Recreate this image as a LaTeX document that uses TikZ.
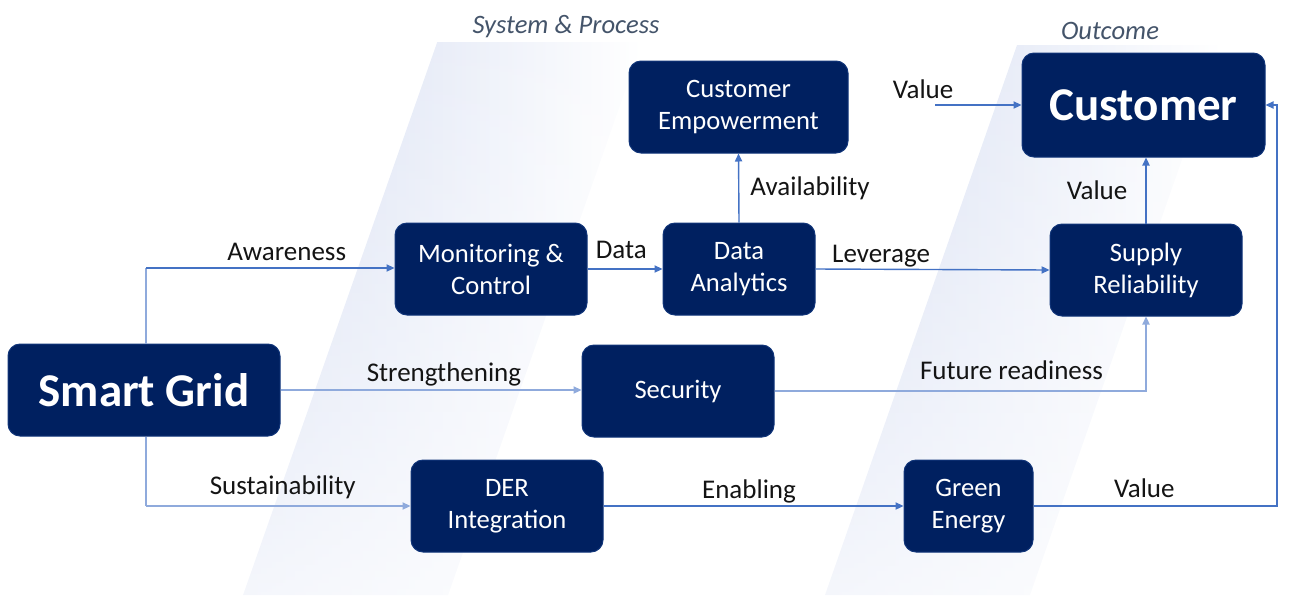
\documentclass[tikz,border=0pt]{standalone}
\usepackage{fontspec}
\setmainfont{Carlito}
\usetikzlibrary{arrows.meta,fadings}

\definecolor{boxColor}{RGB}{0,32,96}
\definecolor{lineColor}{RGB}{68,114,196}
\definecolor{bandColor}{RGB}{212,220,241}
\definecolor{titleColor}{RGB}{68,84,106}
\definecolor{labelColor}{RGB}{20,20,20}

\tikzfading[name=band fade, top color=transparent!0, bottom color=transparent!75]

\tikzset{
  block/.style={fill=boxColor, draw=boxColor!75!lineColor, line width=0.5pt,
    rounded corners=6pt, text=white, align=center, inner sep=0pt,
    font=\fontsize{13.3}{16}\selectfont},
  bigblock/.style={block, font=\fontsize{23.5}{28}\selectfont\bfseries},
  wire/.style={draw=lineColor, line width=0.7pt},
  link/.style={wire, -{Triangle[length=4pt,width=3.6pt]}},
  faint/.style={draw=lineColor!60},
  lbl/.style={text=labelColor, font=\fontsize{13.5}{16}\selectfont,
    inner sep=0pt, anchor=base},
  title/.style={text=titleColor, font=\fontsize{13.3}{16}\selectfont\itshape,
    inner sep=0pt},
  band/.style={left color=bandColor, middle color=bandColor!30, right color=white,
    path fading=band fade, fit fading=true}
}

\begin{document}
\begin{tikzpicture}[x=0.5pt,y=-0.5pt]
\useasboundingbox (0,0) rectangle (1293,595);

% slanted bands behind the two columns
\begin{scope}[shift={(243,595)}, xslant=0.351]
\shade[band] (0,0) rectangle (205,-553);
\end{scope}
\begin{scope}[shift={(825,595)}, xslant=0.349]
\shade[band] (0,0) rectangle (205,-550);
\end{scope}

\node[title] (systitle) at (566,27) {System \& Process};
\node[title] (outtitle) at (1110,31) {Outcome};

% boxes
\node[bigblock, minimum width=136pt, minimum height=46pt] (grid) at (144,390) {Smart Grid};
\node[block, minimum width=96pt, minimum height=46pt] (monitor) at (491,269) {Monitoring \&\\Control};
\node[block, minimum width=76pt, minimum height=46pt] (analytics) at (739,269) {Data\\Analytics};
\node[block, minimum width=109.5pt, minimum height=46pt] (empower) at (738.5,107) {Customer\\Empowerment};
\node[bigblock, minimum width=121.5pt, minimum height=52pt] (customer) at (1143.5,105) {Customer};
\node[block, minimum width=96pt, minimum height=46pt] (supply) at (1146,270) {Supply\\Reliability};
\node[block, minimum width=96pt, minimum height=46pt] (security) at (678,391) {Security};
\node[block, minimum width=96pt, minimum height=46pt] (der) at (507,506) {DER\\Integration};
\node[block, minimum width=64.5pt, minimum height=46pt] (green) at (968.5,506) {Green\\Energy};

% connectors
\coordinate (forktop) at (146,268);
\coordinate (forkbot) at (146,506);
\coordinate (valuefree) at (935,105);
\coordinate (loopcorner) at (1277,506);

\draw[wire, faint] (forktop) -- (forktop |- grid.north);
\draw[wire, faint] (forkbot |- grid.south) -- (forkbot);
\draw[link] (forktop) -- node[lbl, pos=0.566, yshift=4pt] (awareness) {Awareness} (forktop -| monitor.west);
\draw[link, faint] (grid.east) -- node[lbl, pos=0.543, yshift=4.5pt] (strength) {Strengthening} (grid.east -| security.west);
\draw[link, faint] (forkbot) -- node[lbl, pos=0.517, yshift=6pt] (sustain) {Sustainability} (der.west);
\draw[link] (monitor.east) -- node[lbl, pos=0.45, yshift=5.5pt] (data) {Data} (analytics.west);
\draw[link] (analytics.north) -- node[lbl, anchor=west, pos=0.5, xshift=5.5pt] (avail) {Availability} (empower.south);
\draw[link] (analytics.east) -- node[lbl, pos=0.28, yshift=3.5pt] (leverage) {Leverage} (supply.west);
\draw[link, faint] (security.east) -| node[lbl, pos=0.319, yshift=6pt] (future) {Future readiness} (supply.south);
\draw[link] (supply.north) -- node[lbl, anchor=east, pos=0.5, xshift=-9pt] (valuemid) {Value} (supply.north |- customer.south);
\draw[link] (valuefree) -- node[lbl, pos=0, anchor=base east, xshift=9.5pt, yshift=3.5pt] (valuetop) {Value} (customer.west);
\draw[link] (der.east) -- node[lbl, pos=0.485, yshift=4pt] (enabling) {Enabling} (green.west);
\draw[link] (green.east) -- node[lbl, pos=0.455, yshift=4.5pt] (valuebot) {Value} (loopcorner) |- (customer.east);
\end{tikzpicture}
\end{document}
